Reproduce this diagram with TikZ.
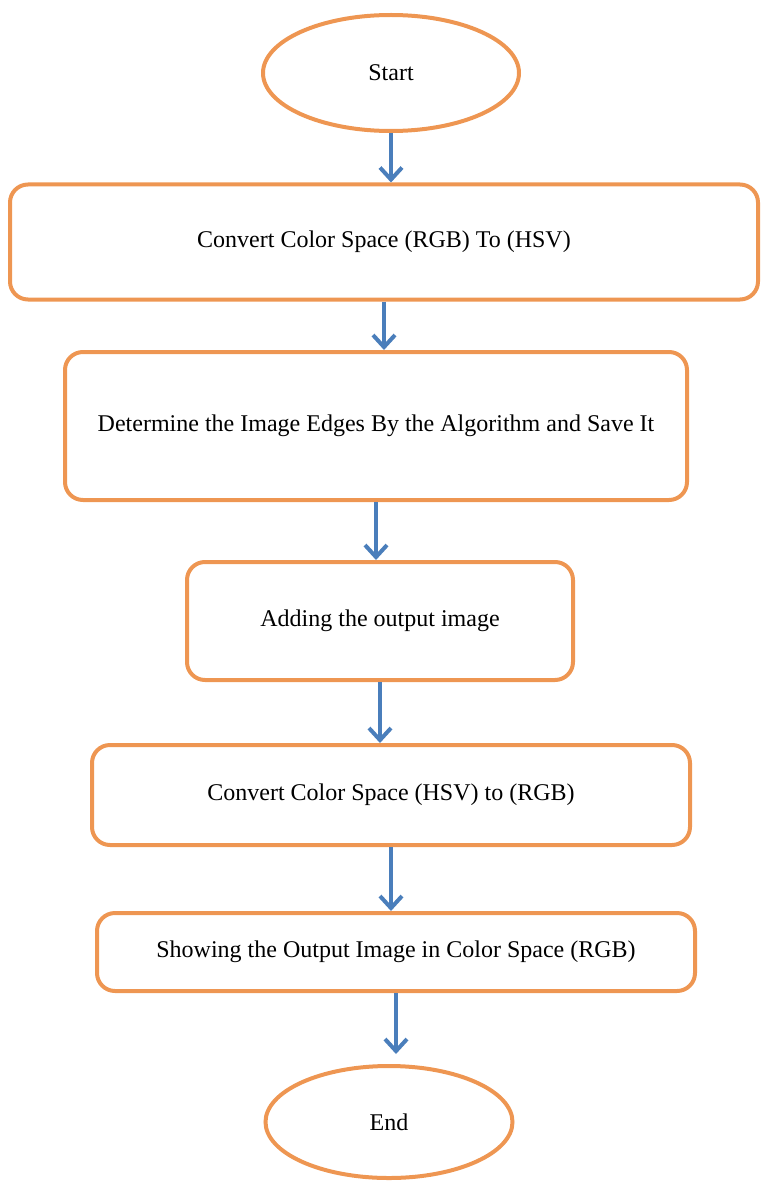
\documentclass[tikz,border=0pt]{standalone}
\usepackage{fontspec}
\setmainfont{Liberation Serif}
\usetikzlibrary{arrows.meta,shapes.geometric}
\definecolor{boxorange}{RGB}{238,150,82}
\definecolor{arrowblue}{RGB}{74,126,187}
\tikzset{
  procbox/.style={draw=boxorange, line width=4pt, rectangle,
    rounded corners=18pt, align=center, inner sep=0pt,
    font=\fontsize{24}{28}\selectfont},
  termnode/.style={draw=boxorange, line width=4pt, ellipse,
    inner sep=0pt, font=\fontsize{24}{28}\selectfont},
  flow/.style={draw=arrowblue, line width=4.5pt,
    -{Straight Barb[length=12pt,width=22pt,line width=4pt]}}
}
\begin{document}
\begin{tikzpicture}[x=1pt,y=-1pt]
  \useasboundingbox (0,0) rectangle (762,1185);

  % terminals and steps
  \node[termnode, minimum width=256pt, minimum height=116pt]
    (start) at (391,73) {Start};
  \node[procbox, minimum width=748pt, minimum height=115pt]
    (rgbhsv) at (384,242) {Convert Color Space (RGB) To (HSV)};
  \node[procbox, minimum width=622pt, minimum height=148pt]
    (edges) at (376,426) {Determine the Image Edges By the Algorithm and Save It};
  \node[procbox, minimum width=386pt, minimum height=118pt]
    (adding) at (380,621) {Adding the output image};
  \node[procbox, minimum width=598pt, minimum height=100pt]
    (hsvrgb) at (391,795) {Convert Color Space (HSV) to (RGB)};
  \node[procbox, minimum width=598pt, minimum height=78pt]
    (showing) at (396,952) {Showing the Output Image in Color Space (RGB)};
  \node[termnode, minimum width=247pt, minimum height=112pt]
    (end) at (389,1122) {End};

  % arrows
  \draw[flow] (start.south) -- (start.south |- rgbhsv.north);
  \draw[flow] (rgbhsv.south) -- (rgbhsv.south |- edges.north);
  \draw[flow] (edges.south) -- (edges.south |- adding.north);
  \draw[flow] (adding.south) -- (adding.south |- hsvrgb.north);
  \draw[flow] (hsvrgb.south) -- (hsvrgb.south |- showing.north);
  \draw[flow, shorten >=10pt] (showing.south) -- (showing.south |- end.north);
\end{tikzpicture}
\end{document}
